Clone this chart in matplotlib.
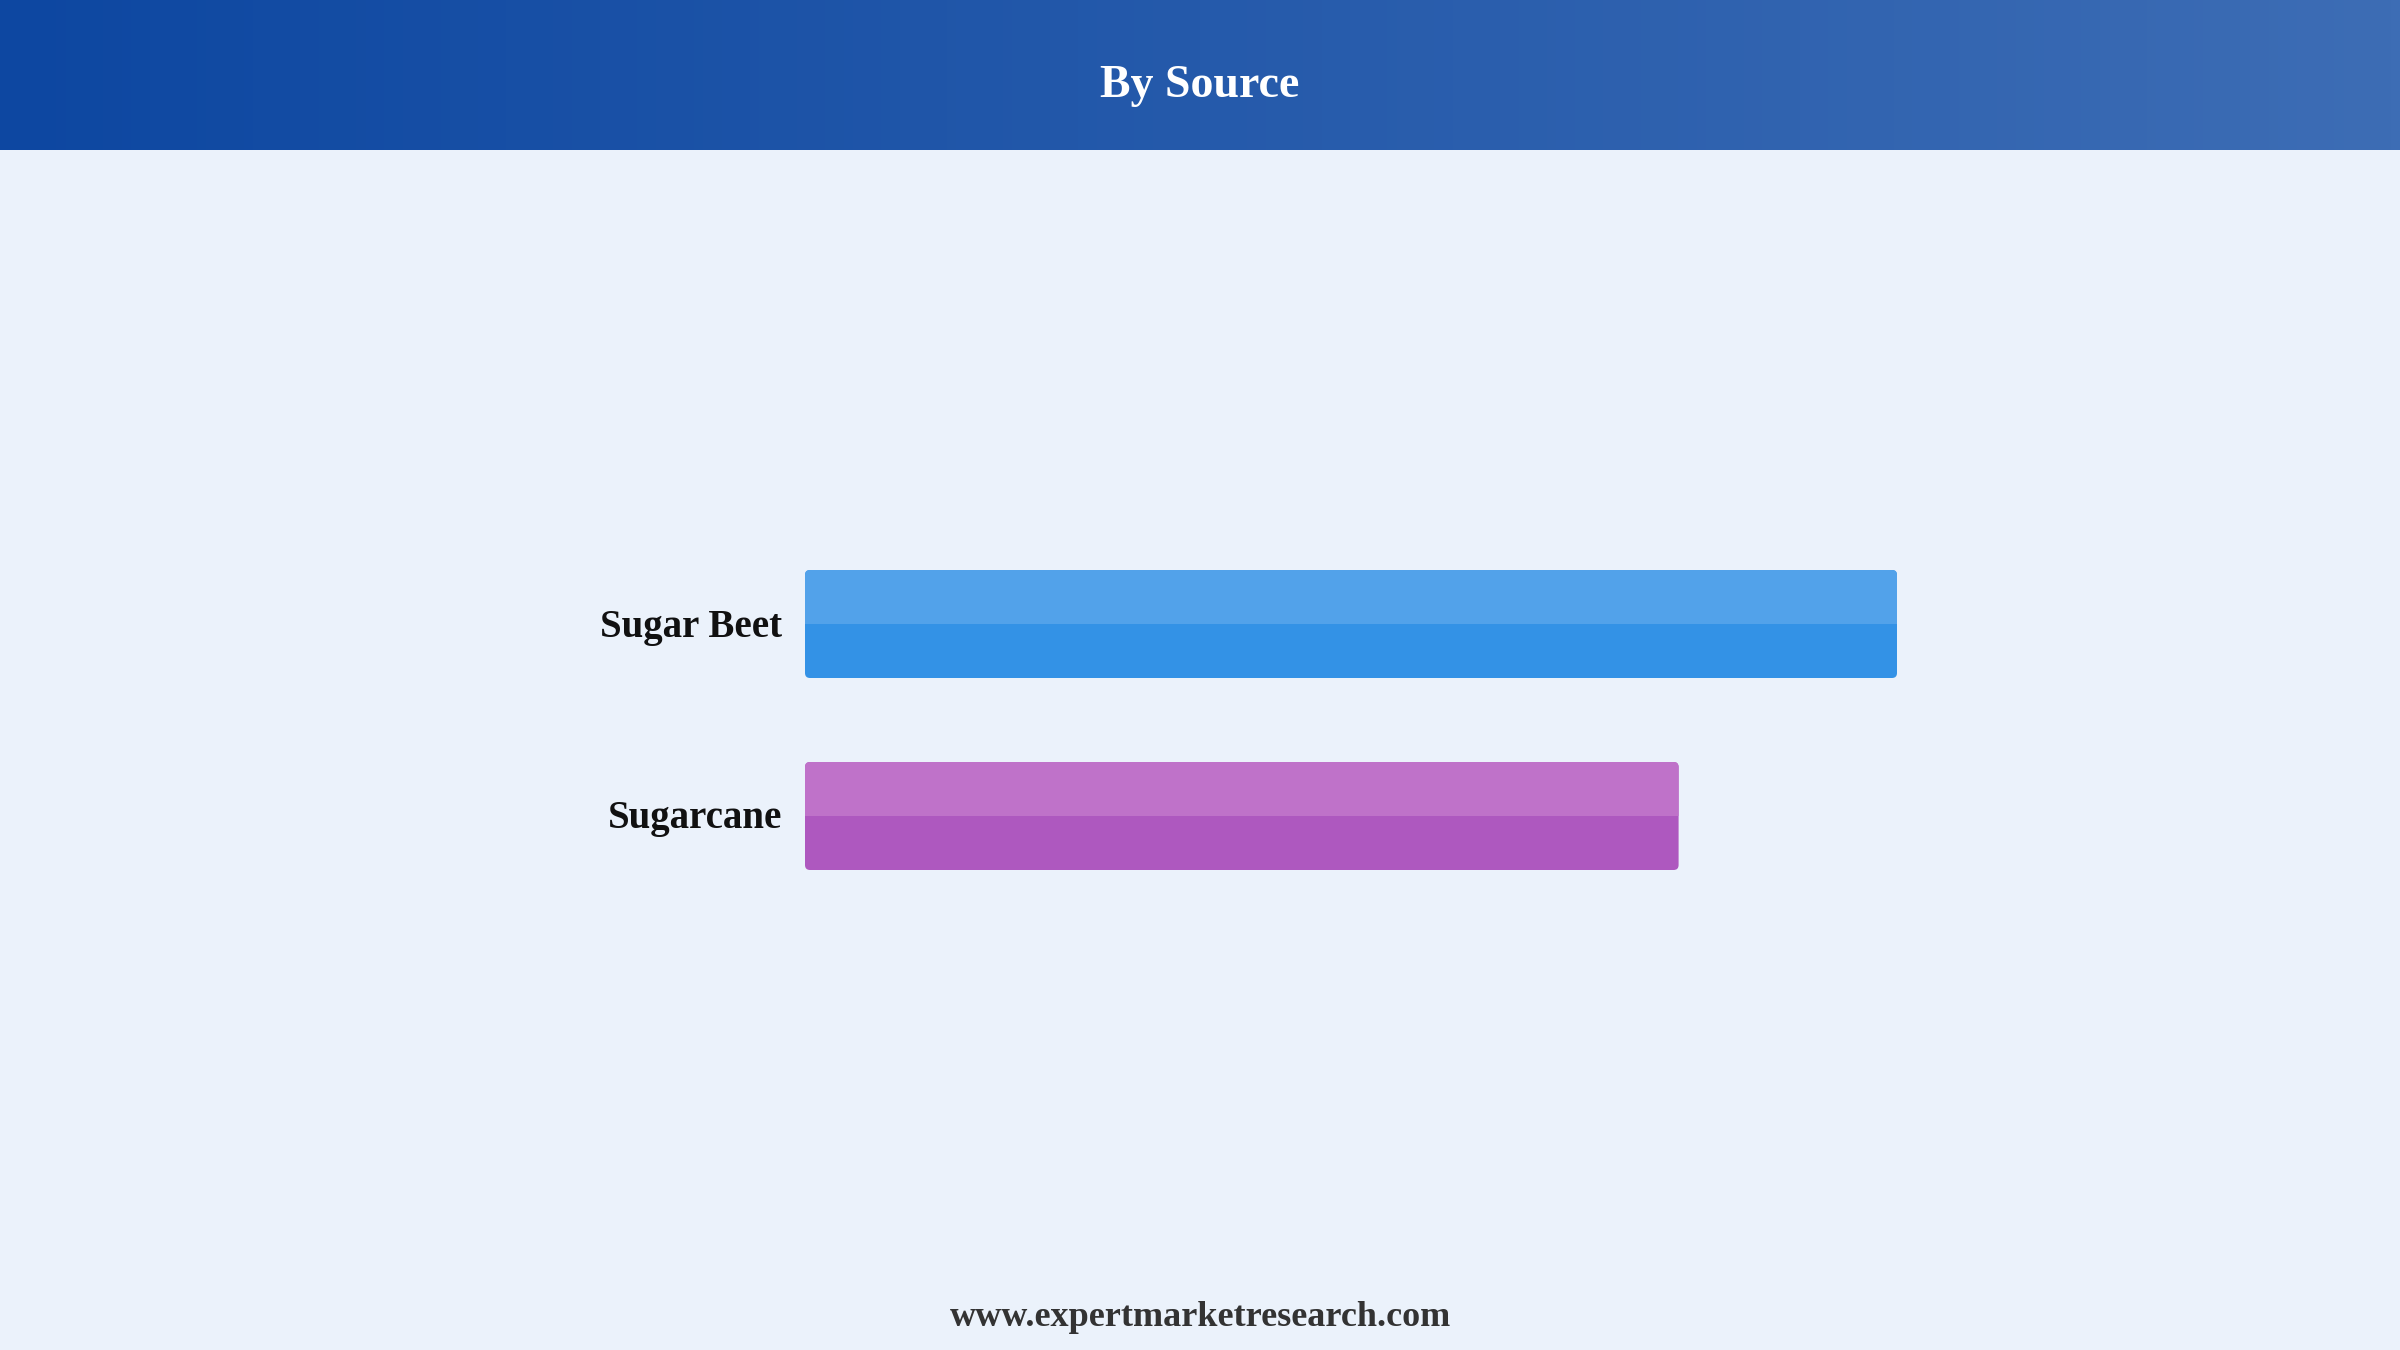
import numpy as np
import matplotlib.pyplot as plt
from matplotlib.patches import FancyBboxPatch

categories = ["Sugarcane", "Sugar Beet"]
values = [80, 100]
dark_colors = ["#AE58BF", "#3392E6"]
light_colors = ["#BF72C9", "#52A2EA"]

title = "By Source"
footer = "www.expertmarketresearch.com"

W, H = 2400, 1350
fig = plt.figure(figsize=(24, 13.5), dpi=100)
fig.patch.set_facecolor("#EBF2FB")

# header band with horizontal gradient
hdr = fig.add_axes([0, 1 - 150 / H, 1, 150 / H])
grad = np.linspace(0, 1, 256).reshape(1, -1)
c0 = np.array([13, 71, 161]) / 255
c1 = np.array([61, 109, 181]) / 255
img = c0[None, None, :] * (1 - grad[..., None]) + c1[None, None, :] * grad[..., None]
hdr.imshow(img, aspect="auto", extent=[0, 1, 0, 1])
hdr.set_axis_off()
fig.text(0.5, 1 - 86 / H, title, ha="center", va="center", color="white",
         fontsize=33, fontweight="bold", family="Liberation Serif")

# bar axes
left, right = 805, 1897
top, bottom = 400, 1040
ax = fig.add_axes([left / W, 1 - bottom / H, (right - left) / W, (bottom - top) / H])
ax.set_facecolor("none")
ax.set_xlim(0, 100)
ax.set_ylim(-1.1667, 2.1667)
ax.set_axis_off()

ypos = np.arange(len(categories))
bh = 0.5625
bars = ax.barh(ypos, values, height=bh, color=dark_colors)

px_x = (right - left) / 100.0
px_y = (bottom - top) / (2.1667 + 1.1667)
r_px = 5
for bar, dc, lc, cat in zip(bars, dark_colors, light_colors, categories):
    x, y = bar.get_x(), bar.get_y()
    w, h = bar.get_width(), bar.get_height()
    bar.set_visible(False)
    rb = FancyBboxPatch((x, y), w, h,
                        boxstyle="round,pad=0,rounding_size=%f" % (r_px / px_x),
                        mutation_aspect=px_x / px_y,
                        facecolor=dc, edgecolor="none")
    ax.add_patch(rb)
    tophalf = ax.barh(y + h / 2, w, height=h / 2, left=x, align="edge",
                      color=lc, edgecolor="none")[0]
    tophalf.set_clip_path(rb)
    ax.text(-23 / px_x, y + h / 2 - 3 / px_y, cat, ha="right", va="center",
            fontsize=28, fontweight="bold", color="#111111",
            family="Liberation Serif", clip_on=False)

fig.text(0.5, 1 - 1318 / H, footer, ha="center", va="center", color="#333333",
         fontsize=26, fontweight="bold", family="Liberation Serif")

fig.savefig("out.png", dpi=100, facecolor=fig.get_facecolor())
